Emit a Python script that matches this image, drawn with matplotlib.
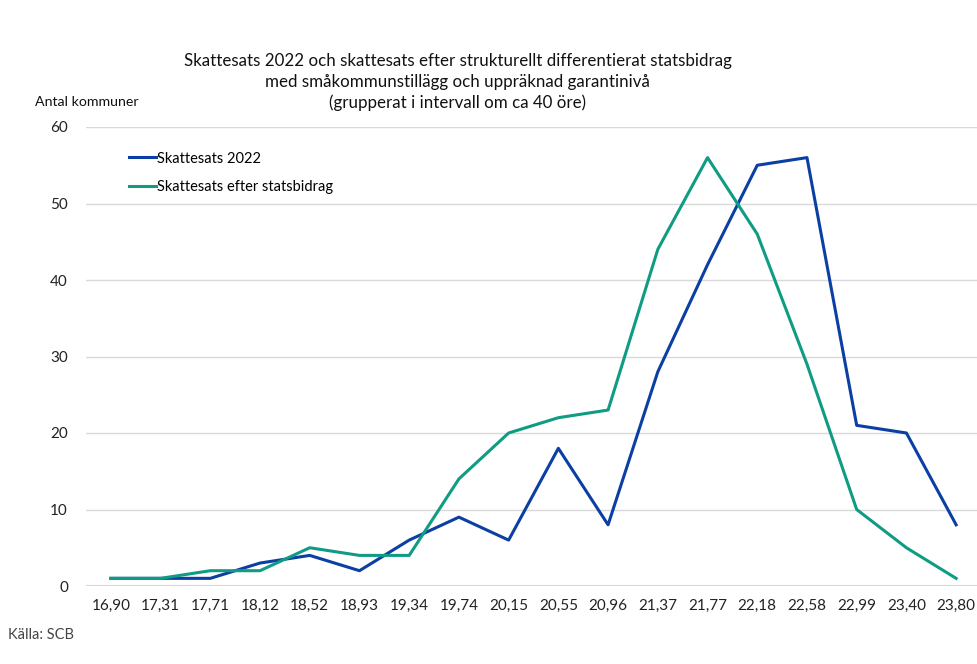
import matplotlib.pyplot as plt

plt.rcParams['font.family'] = ['Lato', 'DejaVu Sans']

# Intervals (kr per 100), number of municipalities in each
intervals = ['16,90', '17,31', '17,71', '18,12', '18,52', '18,93', '19,34', '19,74', '20,15',
             '20,55', '20,96', '21,37', '21,77', '22,18', '22,58', '22,99', '23,40', '23,80']
skattesats_2022 = [1, 1, 1, 3, 4, 2, 6, 9, 6, 18, 8, 28, 42, 55, 56, 21, 20, 8]
efter_statsbidrag = [1, 1, 2, 2, 5, 4, 4, 14, 20, 22, 23, 44, 56, 46, 29, 10, 5, 1]

blue = '#0b3fa3'
green = '#0f9c83'

fig = plt.figure(figsize=(9.78, 6.64), dpi=100)
ax = fig.add_axes([86 / 978, 78 / 664, 895 / 978, 459 / 664])

x = range(len(intervals))
ax.plot(x, skattesats_2022, color=blue, lw=2.2, label='Skattesats 2022', zorder=3)
ax.plot(x, efter_statsbidrag, color=green, lw=2.2, label='Skattesats efter statsbidrag', zorder=3)

ax.set_xlim(-0.5, len(intervals) - 0.5)
ax.set_ylim(0, 60)
ax.set_yticks(range(0, 61, 10))
ax.set_xticks(list(x))
ax.set_xticklabels(intervals)
ax.grid(axis='y', color='#d9d9d9', lw=1)
ax.set_axisbelow(True)
for s in ax.spines.values():
    s.set_visible(False)
ax.axhline(0, color='#d9d9d9', lw=1.5, zorder=1)
ax.tick_params(length=0, labelsize=11, colors='#222222')
ax.tick_params(axis='y', pad=13)
ax.tick_params(axis='x', pad=9)

leg = ax.legend(loc='upper left', bbox_to_anchor=(0.033, 0.975), frameon=False,
                fontsize=10.5, handlelength=1.85, handletextpad=0.1, labelspacing=1.0)

fig.text(0.468, 1 - 82 / 664, 'Skattesats 2022 och skattesats efter strukturellt differentierat statsbidrag\n'
         'med småkommunstillägg och uppräknad garantinivå\n'
         '(grupperat i intervall om ca 40 öre)',
         ha='center', va='center', fontsize=12.2, linespacing=1.35, color='#111111')
fig.text(35 / 978, 1 - 102 / 664, 'Antal kommuner', ha='left', va='center', fontsize=10.2, color='#111111')
fig.text(8 / 978, 1 - 635 / 664, 'Källa: SCB', ha='left', va='center', fontsize=10.5, color='#444444')

fig.savefig('out.png', dpi=100)
